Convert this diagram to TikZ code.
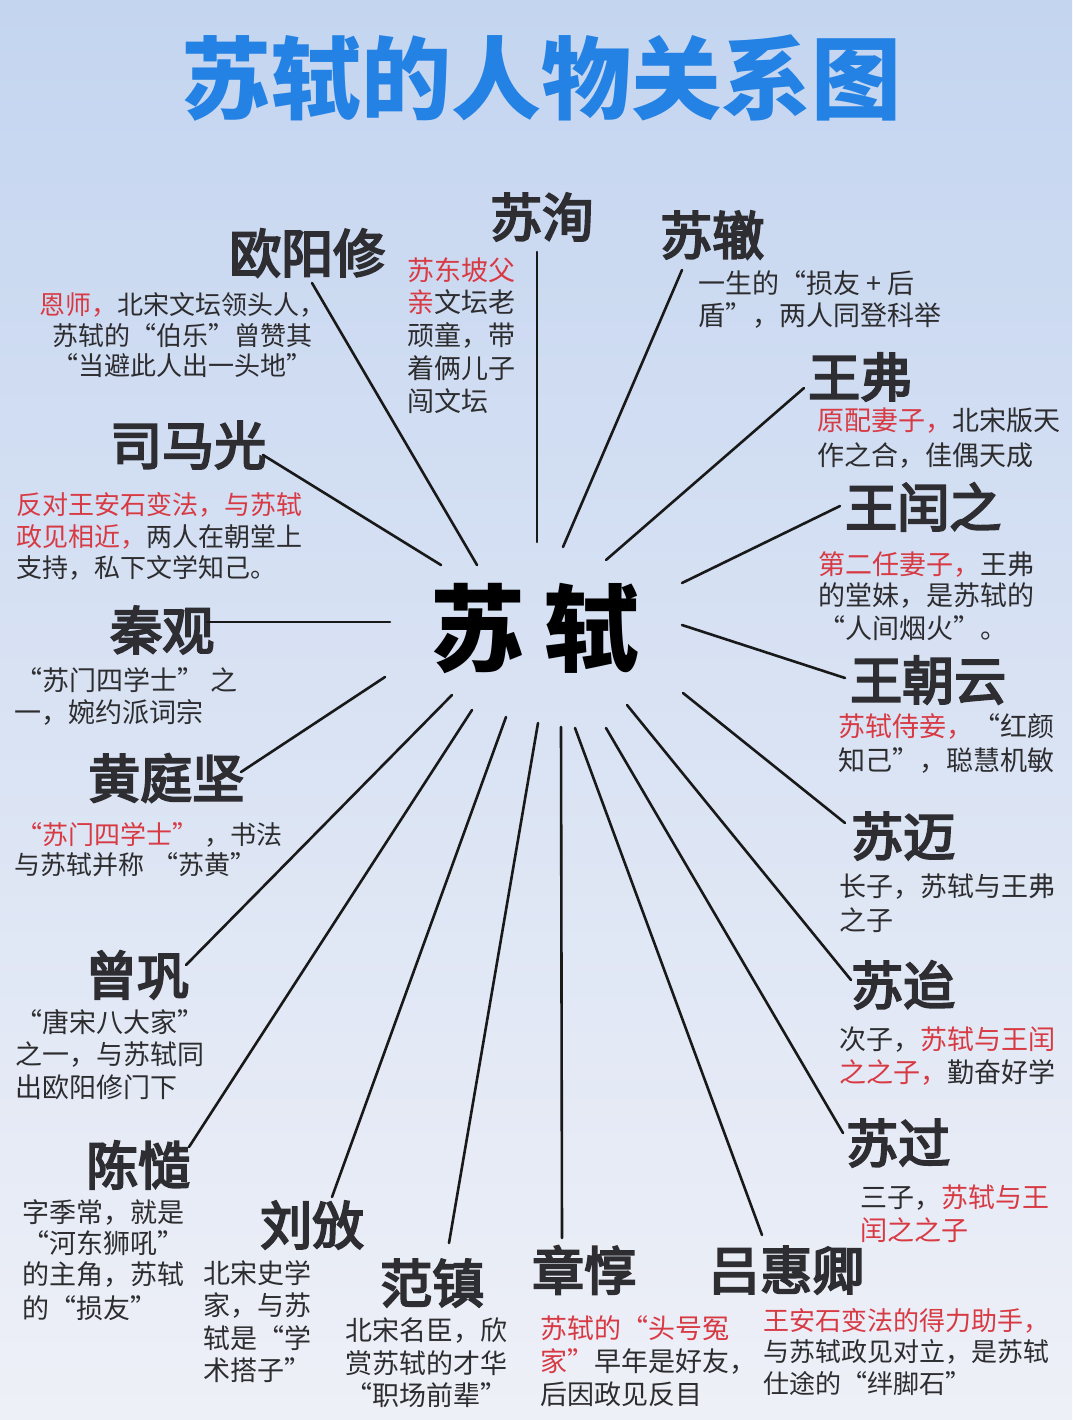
\documentclass[tikz,border=0pt]{standalone}
\usepackage{fontspec}
\setmainfont{Noto Sans CJK SC}
\newfontfamily\namefont[FakeBold=4]{Noto Sans CJK SC}
\definecolor{bgtop}{RGB}{196,213,240}
\definecolor{bgmid}{RGB}{222,229,243}
\definecolor{bgbot}{RGB}{238,240,247}
\definecolor{titleblue}{RGB}{36,130,228}
\definecolor{namecol}{RGB}{45,45,50}
\definecolor{desccol}{RGB}{45,45,48}
\definecolor{hlred}{RGB}{216,58,68}
\newcommand\rd[1]{\textcolor{hlred}{#1}}
\tikzset{
  nm/.style={anchor=west, inner sep=0pt, text=namecol, font=\namefont\fontsize{52}{52}\selectfont},
  ds/.style={anchor=west, inner sep=0pt, text=desccol, font=\fontsize{27}{27}\selectfont},
  dsm/.style={ds, font=\fontsize{26}{26}\selectfont},
  link/.style={line width=2.6pt, draw=black!90, line cap=round},
}
\begin{document}
\begin{tikzpicture}[x=1pt,y=-1pt]
\useasboundingbox (0,0) rectangle (1072,1420);
\shade[top color=bgtop, middle color=bgmid, bottom color=bgbot] (0,0) rectangle (1072,1420);

% title
\node[inner sep=0pt, text=titleblue, font=\bfseries\fontsize{90}{90}\selectfont] (title) at (541,78) {苏轼的人物关系图};

% center
\node[inner sep=0pt, text=black, font=\bfseries\fontsize{95}{95}\selectfont] (su) at (535,628) {苏\hspace{20pt}轼};

% names
\node[nm] (ouyang) at (229,253) {欧阳修};
\node[nm] (suxun) at (490,217) {苏洵};
\node[nm] (suzhe) at (660,235) {苏辙};
\node[nm] (wangfu) at (808,377) {王弗};
\node[nm] (wangrz) at (845,507) {王闰之};
\node[nm] (wangzy) at (850,680) {王朝云};
\node[nm] (sumai) at (851,836) {苏迈};
\node[nm] (sudai) at (851,985) {苏迨};
\node[nm] (suguo) at (846,1143) {苏过};
\node[nm] (lvhq) at (708,1270) {吕惠卿};
\node[nm] (zhangd) at (532,1270) {章惇};
\node[nm] (fanz) at (380,1283) {范镇};
\node[nm] (liub) at (260,1225) {刘攽};
\node[nm] (chenz) at (86,1165) {陈慥};
\node[nm] (zengg) at (85,975) {曾巩};
\node[nm] (huangtj) at (88,778) {黄庭坚};
\node[nm] (qinguan) at (110,630) {秦观};
\node[nm] (simag) at (110,445) {司马光};

% descriptions
\node[dsm, anchor=center] (d1a) at (182,305) {\rd{恩师，}北宋文坛领头人，};
\node[dsm, anchor=center] (d1b) at (182,336) {苏轼的“伯乐”曾赞其};
\node[dsm, anchor=center] (d1c) at (182,366) {“当避此人出一头地”};

\node[ds] (d2a) at (407,270) {\rd{苏东坡父}};
\node[ds] (d2b) at (407,302) {\rd{亲}文坛老};
\node[ds] (d2c) at (407,335) {顽童，带};
\node[ds] (d2d) at (407,368) {着俩儿子};
\node[ds] (d2e) at (407,401) {闯文坛};

\node[ds] (d3a) at (698,283) {一生的“损友 + 后};
\node[ds] (d3b) at (698,316) {盾”，两人同登科举};

\node[ds] (d4a) at (817,421) {\rd{原配妻子，}北宋版天};
\node[ds] (d4b) at (817,456) {作之合，佳偶天成};

\node[ds] (d5a) at (818,565) {\rd{第二任妻子，}王弗};
\node[ds] (d5b) at (818,596) {的堂妹，是苏轼的};
\node[ds] (d5c) at (818,628) {“人间烟火”。};

\node[ds] (d6a) at (838,726) {\rd{苏轼侍妾，}“红颜};
\node[ds] (d6b) at (838,761) {知己”，聪慧机敏};

\node[ds] (d7a) at (839,887) {长子，苏轼与王弗};
\node[ds] (d7b) at (839,920) {之子};

\node[ds] (d8a) at (839,1040) {次子，\rd{苏轼与王闰}};
\node[ds] (d8b) at (839,1072) {\rd{之之子，}勤奋好学};

\node[ds] (d9a) at (860,1198) {三子，\rd{苏轼与王}};
\node[ds] (d9b) at (860,1230) {\rd{闰之之子}};

\node[dsm] (d10a) at (763,1321) {\rd{王安石变法的得力助手，}};
\node[dsm] (d10b) at (763,1352) {与苏轼政见对立，是苏轼};
\node[dsm] (d10c) at (763,1383) {仕途的“绊脚石”};

\node[ds] (d11a) at (540,1328) {\rd{苏轼的“头号冤}};
\node[ds] (d11b) at (540,1361) {\rd{家”}早年是好友，};
\node[ds] (d11c) at (540,1394) {后因政见反目};

\node[ds, anchor=center] (d12a) at (426,1331) {北宋名臣，欣};
\node[ds, anchor=center] (d12b) at (426,1363) {赏苏轼的才华};
\node[ds, anchor=center] (d12c) at (426,1395) {“职场前辈”};

\node[ds] (d13a) at (203,1273) {北宋史学};
\node[ds] (d13b) at (203,1305) {家，与苏};
\node[ds] (d13c) at (203,1338) {轼是“学};
\node[ds] (d13d) at (203,1370) {术搭子”};

\node[ds] (d14a) at (22,1212) {字季常，就是};
\node[ds] (d14b) at (22,1243) {“河东狮吼”};
\node[ds] (d14c) at (22,1275) {的主角，苏轼};
\node[ds] (d14d) at (22,1308) {的“损友”};

\node[ds] (d15a) at (15,1022) {“唐宋八大家”};
\node[ds] (d15b) at (15,1055) {之一，与苏轼同};
\node[ds] (d15c) at (15,1087) {出欧阳修门下};

\node[dsm] (d16a) at (16,835) {\rd{“苏门四学士”}\hspace{6pt}，书法};
\node[dsm] (d16b) at (14,865) {与苏轼并称\hspace{8pt}“苏黄”};

\node[ds] (d17a) at (15,680) {“苏门四学士”\hspace{6pt}之};
\node[ds] (d17b) at (14,712) {一，婉约派词宗};

\node[dsm] (d18a) at (16,505) {\rd{反对王安石变法，与苏轼}};
\node[dsm] (d18b) at (16,537) {\rd{政见相近，}两人在朝堂上};
\node[dsm] (d18c) at (16,568) {支持，私下文学知己。};

% connector end points
\coordinate (o1) at (312,283);  \coordinate (i1) at (477,565);
\coordinate (o2) at (263,455);  \coordinate (i2) at (441,565);
\coordinate (o3) at (537,252);  \coordinate (i3) at (537,542);
\coordinate (o4) at (682,270);  \coordinate (i4) at (563,547);
\coordinate (o5) at (804,388);  \coordinate (i5) at (606,560);
\coordinate (o6) at (840,506);  \coordinate (i6) at (682,583);
\coordinate (o7) at (845,678);  \coordinate (i7) at (682,625);
\coordinate (o8) at (845,823);  \coordinate (i8) at (683,693);
\coordinate (o9) at (851,980);  \coordinate (i9) at (627,705);
\coordinate (o10) at (843,1133); \coordinate (i10) at (606,728);
\coordinate (o11) at (762,1235); \coordinate (i11) at (575,728);
\coordinate (o12) at (562,1238); \coordinate (i12) at (561,727);
\coordinate (o13) at (449,1243); \coordinate (i13) at (538,723);
\coordinate (o14) at (332,1197); \coordinate (i14) at (506,717);
\coordinate (o15) at (189,1147); \coordinate (i15) at (472,710);
\coordinate (o16) at (186,965);  \coordinate (i16) at (452,695);
\coordinate (o17) at (241,772);  \coordinate (i17) at (385,677);
\coordinate (o18) at (207,622);  \coordinate (i18) at (390,622);

\foreach \k in {1,...,18} {\draw[link] (o\k) -- (i\k);}
\end{tikzpicture}
\end{document}
